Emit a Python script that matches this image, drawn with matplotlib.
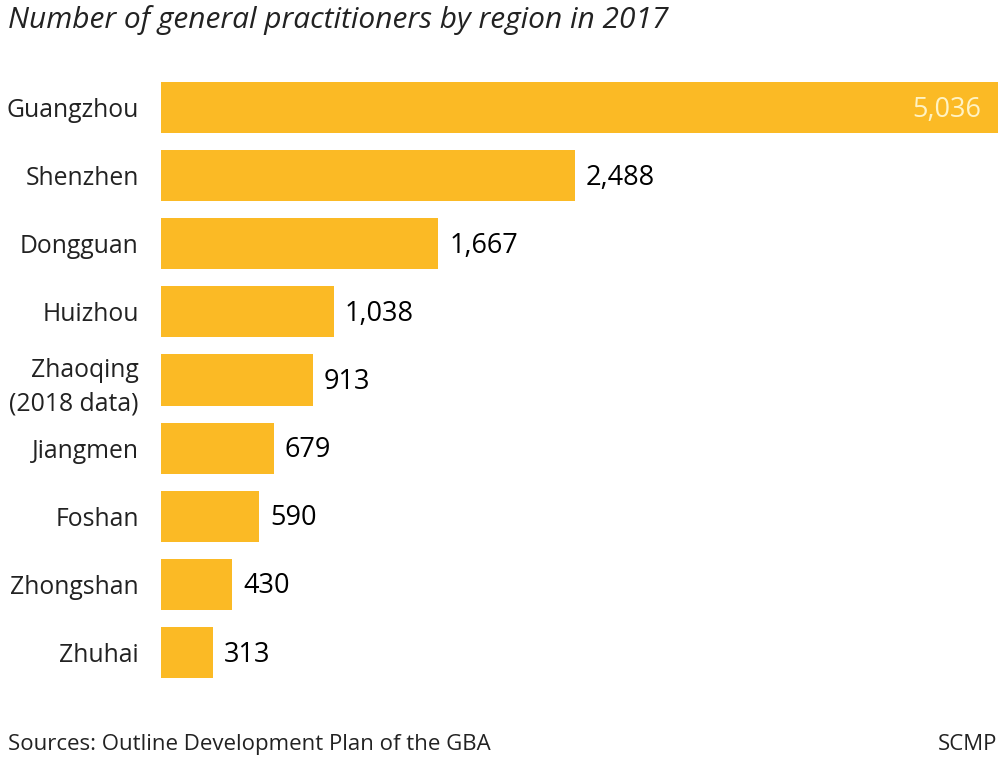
import matplotlib
matplotlib.use("Agg")
import matplotlib.pyplot as plt

plt.rcParams['font.family'] = ['Open Sans', 'DejaVu Sans']

regions = ["Guangzhou", "Shenzhen", "Dongguan", "Huizhou", "Zhaoqing\n(2018 data)",
           "Jiangmen", "Foshan", "Zhongshan", "Zhuhai"]
values = [5036, 2488, 1667, 1038, 913, 679, 590, 430, 313]

bar_color = "#FBBA25"

fig = plt.figure(figsize=(10, 7.61), dpi=100)
ax = fig.add_axes([0.161, 0.0978, 0.837, 0.8057])

ypos = list(range(len(values)))
ax.barh(ypos, values, height=0.75, color=bar_color)
ax.set_xlim(0, 5036)
ax.set_ylim(len(values) - 0.5, -0.5)

for y, v in zip(ypos, values):
    txt = f"{v:,}"
    if v == max(values):
        ax.annotate(txt, (v, y), xytext=(-12, -1.5), textcoords="offset points",
                    ha="right", va="center", fontsize=19.5, color="#FFF3C4")
    else:
        ax.annotate(txt, (v, y), xytext=(8, -1.5), textcoords="offset points",
                    ha="left", va="center", fontsize=19.5, color="black")

ax.set_yticks(ypos)
ax.set_yticklabels(regions, fontsize=17.8, color="#222222", linespacing=1.45)
ax.tick_params(axis="y", length=0, pad=16)
ax.set_xticks([])
for s in ax.spines.values():
    s.set_visible(False)

fig.text(0.008, 0.994, "Number of general practitioners by region in 2017",
         fontsize=21.5, style="italic", ha="left", va="top", color="#222222")
fig.text(0.008, 0.008, "Sources: Outline Development Plan of the GBA",
         fontsize=16, ha="left", va="bottom", color="#222222")
fig.text(0.997, 0.008, "SCMP", fontsize=16, ha="right", va="bottom", color="#222222")

fig.savefig("out.png", dpi=100, facecolor="white")
